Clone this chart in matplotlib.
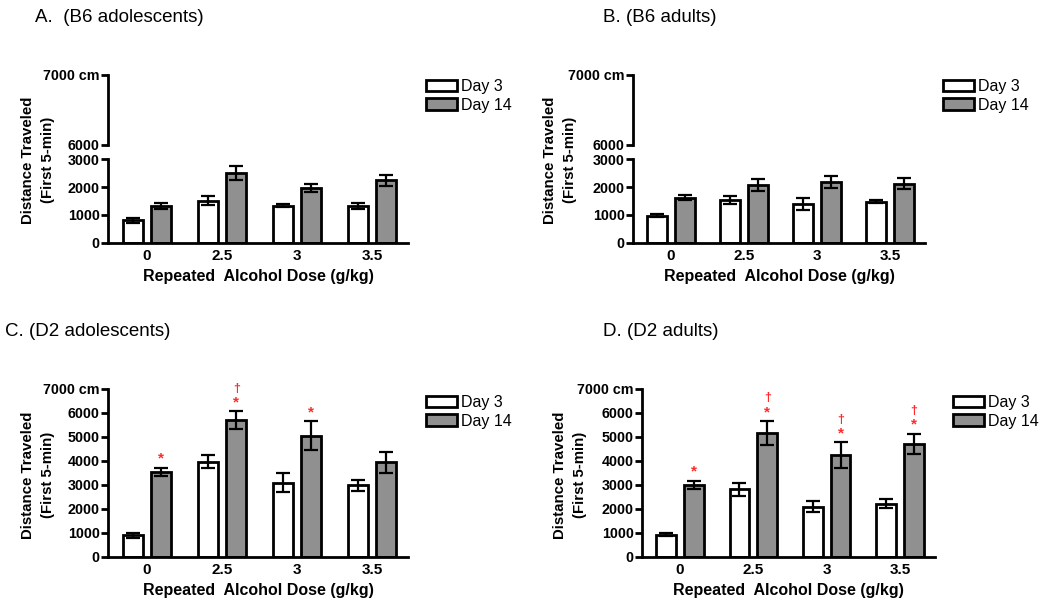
import matplotlib
matplotlib.use("Agg")
import matplotlib.pyplot as plt
from matplotlib.patches import Patch
import numpy as np

plt.rcParams['font.family'] = ['Liberation Sans', 'DejaVu Sans']

doses = ["0", "2.5", "3", "3.5"]
series = ["Day 3", "Day 14"]

# Panel A: B6 adolescents
a_day3 = [810, 1510, 1330, 1330]
a_day3_err = [80, 170, 50, 100]
a_day14 = [1330, 2505, 1965, 2235]
a_day14_err = [100, 245, 160, 200]

# Panel B: B6 adults
b_day3 = [976, 1530, 1390, 1470]
b_day3_err = [60, 150, 220, 55]
b_day14 = [1624, 2080, 2176, 2120]
b_day14_err = [100, 220, 220, 190]

# Panel C: D2 adolescents
c_day3 = [900, 3970, 3097, 2986]
c_day3_err = [120, 265, 400, 230]
c_day14 = [3555, 5694, 5055, 3944]
c_day14_err = [160, 380, 600, 440]
c_star = [True, True, True, False]
c_dagger = [False, True, False, False]

# Panel D: D2 adults
d_day3 = [929, 2815, 2094, 2219]
d_day3_err = [70, 280, 220, 190]
d_day14 = [2995, 5170, 4243, 4715]
d_day14_err = [170, 490, 540, 420]
d_star = [True, True, True, True]
d_dagger = [False, True, True, True]

titles = ["A.  (B6 adolescents)", "B. (B6 adults)", "C. (D2 adolescents)", "D. (D2 adults)"]

W, H = 1050, 604
fig = plt.figure(figsize=(W / 100, H / 100), dpi=100)

GRAY = '#909090'
RED = '#ff2a2a'
BW = 0.27
OFF = 0.19
TICKFS = 10.3


def rect(l, t, r, b):
    return [l / W, 1 - b / H, (r - l) / W, (b - t) / H]


def style_ax(ax):
    for s in ['top', 'right']:
        ax.spines[s].set_visible(False)
    for s in ['left', 'bottom']:
        ax.spines[s].set_linewidth(2)
    ax.tick_params(axis='y', width=2, length=5, labelsize=TICKFS, pad=1)
    for lab in ax.get_xticklabels() + ax.get_yticklabels():
        lab.set_fontweight('bold')


def draw_bars(ax, d3, e3, d14, e14):
    x = np.arange(len(doses))
    ax.bar(x - OFF, d3, BW, color='white', edgecolor='black', linewidth=2, zorder=2)
    ax.bar(x + OFF, d14, BW, color=GRAY, edgecolor='black', linewidth=2, zorder=2)
    ax.errorbar(x - OFF, d3, yerr=e3, fmt='none', ecolor='black', elinewidth=1.6,
                capsize=5.2, capthick=1.6, zorder=3)
    ax.errorbar(x + OFF, d14, yerr=e14, fmt='none', ecolor='black', elinewidth=1.6,
                capsize=5.2, capthick=1.6, zorder=3)
    ax.set_xticks(x)
    ax.set_xticklabels(doses, fontsize=11, fontweight='bold')
    ax.set_xlim(-0.52, 3.48)
    ax.tick_params(axis='x', length=0, pad=4)


def add_legend(ax, x_px, y_px):
    handles = [Patch(facecolor='white', edgecolor='black', linewidth=2),
               Patch(facecolor=GRAY, edgecolor='black', linewidth=2)]
    ax.legend(handles, series, loc='upper left', bbox_to_anchor=(x_px / W, 1 - y_px / H),
              bbox_transform=fig.transFigure, frameon=False, fontsize=11.5,
              handlelength=1.95, handleheight=0.7, handletextpad=0.25,
              labelspacing=0.22, borderpad=0, borderaxespad=0)


def broken_panel(l, r, d3, e3, d14, e14, title, tx, legx):
    up = fig.add_axes(rect(l, 75, r, 145))
    lo = fig.add_axes(rect(l, 159, r, 243))
    draw_bars(lo, d3, e3, d14, e14)
    lo.set_ylim(0, 3000)
    lo.set_yticks([0, 1000, 2000, 3000])
    style_ax(lo)
    up.set_ylim(6000, 7000)
    up.set_yticks([6000, 7000])
    up.set_yticklabels(["6000", "7000 cm"])
    up.set_xlim(-0.52, 3.48)
    up.set_xticks([])
    style_ax(up)
    up.spines['bottom'].set_visible(False)
    lo.set_xlabel("Repeated  Alcohol Dose (g/kg)", fontsize=11.5, fontweight='bold', labelpad=5)
    fig.text(tx / W, 1 - 17 / H, title, fontsize=13.5, va='center', ha='left')
    add_legend(lo, legx, 79)
    return lo


def full_panel(l, r, d3, e3, d14, e14, star, dag, title, tx, legx):
    ax = fig.add_axes(rect(l, 389, r, 557))
    draw_bars(ax, d3, e3, d14, e14)
    ax.set_ylim(0, 7000)
    ax.set_yticks(range(0, 7001, 1000))
    ax.set_yticklabels([str(v) for v in range(0, 7000, 1000)] + ["7000 cm"])
    style_ax(ax)
    ax.set_xlabel("Repeated  Alcohol Dose (g/kg)", fontsize=11.5, fontweight='bold', labelpad=5)
    x = np.arange(len(doses))
    for i in range(len(doses)):
        top = d14[i] + e14[i]
        if star[i]:
            ax.annotate("*", (x[i] + OFF, top), xytext=(0, 1.5), textcoords='offset points',
                        ha='center', va='bottom', color=RED, fontsize=11, fontweight='bold')
        if dag[i]:
            ax.annotate("\u2020", (x[i] + OFF, top), xytext=(0, 12), textcoords='offset points',
                        ha='center', va='bottom', color=RED, fontsize=9, fontweight='bold')
    fig.text(tx / W, 1 - 332 / H, title, fontsize=13.5, va='center', ha='left')
    add_legend(ax, legx, 395)
    return ax


broken_panel(108, 408, a_day3, a_day3_err, a_day14, a_day14_err, titles[0], 35, 426)
broken_panel(633, 925, b_day3, b_day3_err, b_day14, b_day14_err, titles[1], 603, 943)
full_panel(108, 408, c_day3, c_day3_err, c_day14, c_day14_err, c_star, c_dagger, titles[2], 5, 426)
full_panel(642, 935, d_day3, d_day3_err, d_day14, d_day14_err, d_star, d_dagger, titles[3], 603, 953)

# y labels (two lines each)
for (x1, x2, yc) in [(28, 48, 160), (550, 570, 160), (28, 48, 475), (560, 580, 475)]:
    fig.text(x1 / W, 1 - yc / H, "Distance Traveled", rotation=90, ha='center', va='center',
             fontsize=10.8, fontweight='bold')
    fig.text(x2 / W, 1 - yc / H, "(First 5-min)", rotation=90, ha='center', va='center',
             fontsize=10.8, fontweight='bold')

fig.savefig("out.png", dpi=100)
